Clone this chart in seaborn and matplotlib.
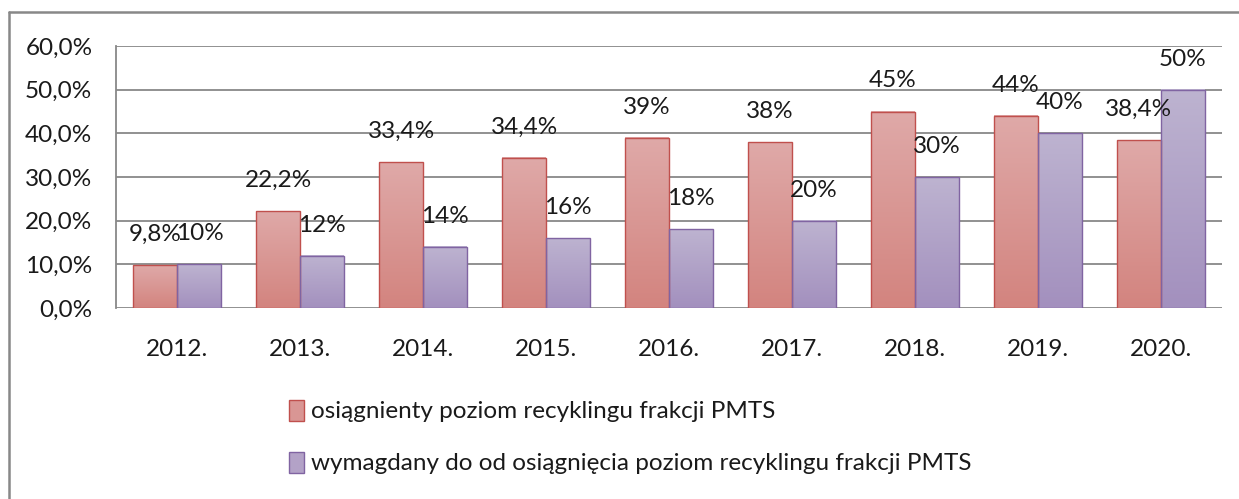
import numpy as np
import pandas as pd
import matplotlib
matplotlib.use("Agg")
import matplotlib.pyplot as plt
from matplotlib.patches import Patch
from matplotlib.lines import Line2D
import seaborn as sns

years = ["2012.", "2013.", "2014.", "2015.", "2016.", "2017.", "2018.", "2019.", "2020."]
achieved = [9.8, 22.2, 33.4, 34.4, 39, 38, 45, 44, 38.4]
required = [10, 12, 14, 16, 18, 20, 30, 40, 50]
achieved_labels = ["9,8%", "22,2%", "33,4%", "34,4%", "39%", "38%", "45%", "44%", "38,4%"]
required_labels = ["10%", "12%", "14%", "16%", "18%", "20%", "30%", "40%", "50%"]
series_names = ["osiągnienty poziom recyklingu frakcji PMTS",
                "wymagdany do od osiągnięcia poziom recyklingu frakcji PMTS"]
yticks = [0, 10, 20, 30, 40, 50, 60]
ytick_labels = ["0,0%", "10,0%", "20,0%", "30,0%", "40,0%", "50,0%", "60,0%"]

df = pd.DataFrame({
    "year": years * 2,
    "value": achieved + required,
    "series": [series_names[0]] * len(years) + [series_names[1]] * len(years),
})

sns.set_theme(style="white")
plt.rcParams["font.family"] = ["Lato", "DejaVu Sans"]

FS = 17.5
fig = plt.figure(figsize=(12.39, 4.99), dpi=100)
ax = fig.add_axes([116 / 1239, 1 - 308 / 499, (1222 - 116) / 1239, (308 - 46) / 499])

edge_cols = ["#C0504D", "#8064A2"]
top_cols = ["#DFA9A8", "#BDB3D0"]
bot_cols = ["#D3847F", "#A390BE"]

sns.barplot(data=df, x="year", y="value", hue="series", hue_order=series_names,
            order=years, palette=["#D99694", "#B3A2C7"], width=0.716, gap=0,
            ax=ax, legend=False, saturation=1)

# gradient fills
for ci, cont in enumerate(ax.containers):
    c_top = np.array(matplotlib.colors.to_rgb(top_cols[ci]))
    c_bot = np.array(matplotlib.colors.to_rgb(bot_cols[ci]))
    grad = np.linspace(0, 1, 64)[:, None, None]
    img = c_top * (1 - grad) + c_bot * grad
    for p in cont.patches:
        x0, y0 = p.get_x(), p.get_y()
        w, h = p.get_width(), p.get_height()
        p.set_facecolor("none")
        p.set_edgecolor(edge_cols[ci])
        p.set_linewidth(1.0)
        p.set_zorder(2)
        ax.imshow(img, extent=(x0, x0 + w, y0, y0 + h), aspect="auto",
                  origin="upper", zorder=1.5, interpolation="bilinear")

ax.set_ylim(0, 60)
ax.set_xlim(-0.5, len(years) - 0.5)

# data labels
for ci, (cont, labs) in enumerate(zip(ax.containers, [achieved_labels, required_labels])):
    for p, lab in zip(cont.patches, labs):
        ax.annotate(lab, (p.get_x() + p.get_width() / 2, p.get_height()),
                    xytext=(0, 22), textcoords="offset points",
                    ha="center", va="center", fontsize=FS, color="#1a1a1a", zorder=5)

ax.set_yticks(yticks)
ax.set_yticklabels(ytick_labels, fontsize=FS, color="#1a1a1a")
ax.tick_params(axis="x", labelsize=FS, labelcolor="#1a1a1a", length=0, pad=22)
ax.tick_params(axis="y", length=0, pad=17)
ax.set_xlabel("")
ax.set_ylabel("")
ax.yaxis.grid(True, color="#888888", linewidth=1.3)
ax.set_axisbelow(True)
for s in ["top", "right", "bottom"]:
    ax.spines[s].set_visible(False)
ax.spines["left"].set_color("#888888")
ax.spines["left"].set_linewidth(1.3)

handles = [Patch(facecolor="#D99694", edgecolor=edge_cols[0], linewidth=1),
           Patch(facecolor="#B3A2C7", edgecolor=edge_cols[1], linewidth=1)]
fig.legend(handles, series_names, loc="center left",
           bbox_to_anchor=(289 / 1239, 1 - 437 / 499), frameon=False,
           fontsize=FS, handlelength=0.6, handleheight=0.95, handletextpad=0.3,
           labelspacing=1.2, borderpad=0, borderaxespad=0, labelcolor="#1a1a1a")

# outer chart frame
fig.add_artist(Line2D([9 / 1239, 9 / 1239], [0, 1 - 12 / 499], transform=fig.transFigure,
                      color="#888888", linewidth=1.8))
fig.add_artist(Line2D([9 / 1239, 1], [1 - 12 / 499, 1 - 12 / 499], transform=fig.transFigure,
                      color="#888888", linewidth=1.8))

fig.savefig("out.png", dpi=100)
